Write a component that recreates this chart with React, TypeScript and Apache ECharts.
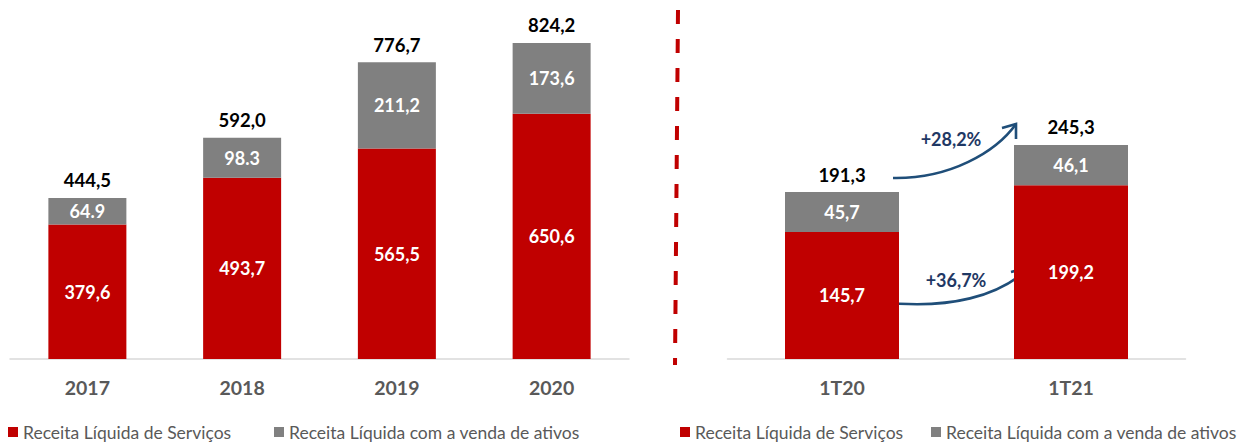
import React, { useEffect, useRef } from "react";
import * as echarts from "echarts";

const years = ["2017", "2018", "2019", "2020"];
const servicos = [379.6, 493.7, 565.5, 650.6];
const servicosLabels = ["379,6", "493,7", "565,5", "650,6"];
const ativos = [64.9, 98.3, 211.2, 173.6];
const ativosLabels = ["64.9", "98.3", "211,2", "173,6"];
const totais = [444.5, 592.0, 776.7, 824.2];
const totaisLabels = ["444,5", "592,0", "776,7", "824,2"];

const quarters = ["1T20", "1T21"];
const servicosQ = [145.7, 199.2];
const servicosQLabels = ["145,7", "199,2"];
const ativosQ = [45.7, 46.1];
const ativosQLabels = ["45,7", "46,1"];
const totaisQ = [191.3, 245.3];
const totaisQLabels = ["191,3", "245,3"];
const growthLabels = ["+28,2%", "+36,7%"];

const NAME_SERV = "Receita Líquida de Serviços";
const NAME_ATIV = "Receita Líquida com a venda de ativos";
const RED = "#C00000";
const GRAY = "#808080";
const FONT = "Lato";

function arrow(p0: number[], c1: number[], c2: number[], p3: number[], b1: number[], b2: number[]) {
  const style = { stroke: "#1F4E79", lineWidth: 2.6, fill: null as any };
  return [
    {
      type: "bezierCurve",
      shape: { x1: p0[0], y1: p0[1], cpx1: c1[0], cpy1: c1[1], cpx2: c2[0], cpy2: c2[1], x2: p3[0], y2: p3[1] },
      style,
    },
    {
      type: "polyline",
      shape: { points: [b1, p3, b2] },
      style: { ...style, lineJoin: "miter" },
    },
  ];
}

export default function App() {
  const ref = useRef<HTMLDivElement>(null);
  useEffect(() => {
    const chart = echarts.init(ref.current!, undefined, { renderer: "svg" });
    const inLabel = (labels: string[]) => ({
      show: true,
      position: "inside",
      color: "#fff",
      fontFamily: FONT,
      fontWeight: "bold",
      fontSize: 18,
      formatter: (p: any) => labels[p.dataIndex],
    });
    const totLabel = (labels: string[]) => ({
      show: true,
      position: "top",
      distance: 8,
      color: "#000000",
      opacity: 1,
      fontFamily: FONT,
      fontWeight: "bold",
      fontSize: 18.5,
      formatter: (p: any) => labels[p.dataIndex],
    });
    const xAxisCommon = {
      type: "category",
      axisTick: { show: false },
      axisLine: { lineStyle: { color: "#D9D9D9", width: 1.5 } },
      axisLabel: { color: "#595959", fontFamily: FONT, fontWeight: "bold", fontSize: 19.5, margin: 18 },
    };
    const legendCommon = {
      top: 423,
      padding: 0,
      icon: "rect",
      itemWidth: 10,
      itemHeight: 10,
      selectedMode: false,
      textStyle: { color: "#595959", fontFamily: FONT, fontSize: 17.5 },
    };
    chart.setOption({
      animation: false,
      grid: [
        { left: 10, right: 621, top: 12, bottom: 83 },
        { left: 727.5, right: 64.5, top: 10, bottom: 83 },
      ],
      xAxis: [
        { ...xAxisCommon, gridIndex: 0, data: years },
        { ...xAxisCommon, gridIndex: 1, data: quarters },
      ],
      yAxis: [
        { type: "value", gridIndex: 0, min: 50, max: 900, show: false },
        { type: "value", gridIndex: 1, min: 0, max: 400, show: false },
      ],
      legend: [
        { ...legendCommon, left: 8, data: [{ name: NAME_SERV, itemStyle: { color: RED } }] },
        { ...legendCommon, left: 274, data: [{ name: NAME_ATIV, itemStyle: { color: GRAY } }] },
        { ...legendCommon, left: 680, data: [{ name: NAME_SERV, itemStyle: { color: RED } }] },
        { ...legendCommon, left: 931, data: [{ name: NAME_ATIV, itemStyle: { color: GRAY } }] },
      ],
      series: [
        {
          name: NAME_SERV, type: "bar", xAxisIndex: 0, yAxisIndex: 0, stack: "L", barWidth: 78,
          data: servicos, itemStyle: { color: RED }, label: inLabel(servicosLabels),
        },
        {
          name: NAME_ATIV, type: "bar", xAxisIndex: 0, yAxisIndex: 0, stack: "L", barWidth: 78,
          data: ativos, itemStyle: { color: GRAY }, label: inLabel(ativosLabels),
        },
        {
          name: "totalL", type: "scatter", xAxisIndex: 0, yAxisIndex: 0, symbolSize: 0,
          data: totais, itemStyle: { color: "#000" }, label: totLabel(totaisLabels), z: 5,
        },
        {
          name: NAME_SERV, type: "bar", xAxisIndex: 1, yAxisIndex: 1, stack: "R", barWidth: 114,
          data: servicosQ, itemStyle: { color: RED }, label: inLabel(servicosQLabels),
        },
        {
          name: NAME_ATIV, type: "bar", xAxisIndex: 1, yAxisIndex: 1, stack: "R", barWidth: 114,
          data: ativosQ, itemStyle: { color: GRAY }, label: inLabel(ativosQLabels),
        },
        {
          name: "totalR", type: "scatter", xAxisIndex: 1, yAxisIndex: 1, symbolSize: 0,
          data: totaisQ, itemStyle: { color: "#000" }, label: totLabel(totaisQLabels), z: 5,
        },
      ],
      graphic: [
        {
          type: "line",
          shape: { x1: 678, y1: 10, x2: 675, y2: 365 },
          style: { stroke: RED, lineWidth: 4, lineDash: [14, 15] },
        },
        ...arrow([893, 178], [950, 179], [996, 152], [1016, 124], [1002, 128], [1016, 139]),
        ...arrow([880, 302], [950, 310], [1000, 296], [1030, 267], [1011, 272], [1028, 283]),
        {
          type: "text",
          x: 951, y: 139,
          style: {
            text: growthLabels[0], fill: "#1F3864", font: `bold 18px ${FONT}`,
            textAlign: "center", textVerticalAlign: "middle",
          },
        },
        {
          type: "text",
          x: 956, y: 280,
          style: {
            text: growthLabels[1], fill: "#1F3864", font: `bold 18px ${FONT}`,
            textAlign: "center", textVerticalAlign: "middle",
          },
        },
      ],
    });
    return () => chart.dispose();
  }, []);
  return (
    <div
      ref={ref}
      style={{ position: "fixed", left: 0, top: 0, width: 1250, height: 442, background: "#fff" }}
    />
  );
}
